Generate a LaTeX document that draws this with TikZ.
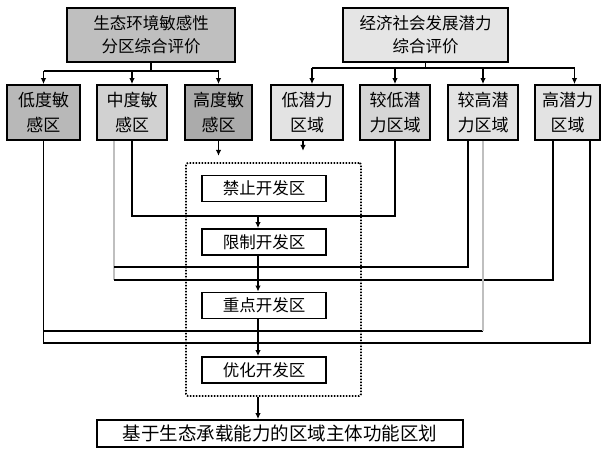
\documentclass[tikz,border=0pt]{standalone}
\usepackage{fontspec}
\setmainfont{Noto Sans CJK SC}
\usetikzlibrary{arrows.meta,calc}
\begin{document}
\begin{tikzpicture}[x=1pt,y=-1pt,
  conn/.style={line width=1.8pt,draw=black},
  arr/.style={conn,-{Latex[length=6pt,width=5.5pt]}},
  faint/.style={line width=1.1pt,draw=black!25},
  hdr/.style={draw=black,line width=1.8pt,inner sep=0pt,align=center,
    minimum height=54pt,font=\fontsize{16.5}{23}\selectfont},
  cat/.style={draw=black,line width=1.8pt,inner sep=0pt,align=center,
    minimum height=55pt,font=\fontsize{17}{25}\selectfont},
  zone/.style={draw=black,line width=1.8pt,fill=white,inner sep=0pt,
    minimum width=124pt,minimum height=26pt,font=\fontsize{16.5}{18}\selectfont},
  grp/.style={draw=black,line width=1.8pt,dash pattern=on 1.5pt off 1.5pt,
    rounded corners=2pt,inner sep=0pt,minimum width=175pt,minimum height=233pt},
  final/.style={draw=black,line width=1.8pt,inner sep=0pt,minimum width=366pt,
    minimum height=27pt,font=\fontsize{18.5}{20}\selectfont}
]
\useasboundingbox[fill=white] (0,0) rectangle (605,450);

% headers
\node[hdr,fill=black!25,minimum width=168pt] (h1) at (151,35) {生态环境敏感性\\分区综合评价};
\node[hdr,fill=black!10,minimum width=165pt] (h2) at (425.5,35) {经济社会发展潜力\\综合评价};

% category boxes
\node[cat,fill=black!28,minimum width=73pt] (b1) at (43.5,112.5) {低度敏\\感区};
\node[cat,fill=black!18,minimum width=70pt] (b2) at (132,112.5) {中度敏\\感区};
\node[cat,fill=black!33,minimum width=67pt] (b3) at (218.5,112.5) {高度敏\\感区};
\node[cat,fill=black!11,minimum width=72pt] (b4) at (307,112.5) {低潜力\\区域};
\node[cat,fill=black!16,minimum width=70pt] (b5) at (395,112.5) {较低潜\\力区域};
\node[cat,fill=black!11,minimum width=70pt] (b6) at (483,112.5) {较高潜\\力区域};
\node[cat,fill=black!11,minimum width=65pt] (b7) at (567.5,112.5) {高潜力\\区域};

% group of zones
\node[grp] (grp) at (273.5,279.5) {};
\node[zone] (z1) at (264,188.5) {禁止开发区};
\node[zone] (z2) at (264,242) {限制开发区};
\node[zone] (z3) at (264,305.5) {重点开发区};
\node[zone] (z4) at (264,370) {优化开发区};

\node[final] (fin) at (280,433.5) {基于生态承载能力的区域主体功能区划};

% header buses
\draw[conn] (h1.south) -- ++(0,8) coordinate (lb);
\draw[conn] (b1.north |- lb) -- (b3.north |- lb);
\foreach \b in {b1,b2,b3} \draw[arr] (\b.north |- lb) -- (\b.north);
\draw[conn] (h2.south) -- ++(0,5) coordinate (rb);
\draw[conn] ($(b4.north |- rb)+(5,0)$) -- ($(b7.north |- rb)+(7,0)$);
\draw[arr] ($(b4.north |- rb)+(5,0)$) -- ($(b4.north)+(5,0)$);
\draw[arr] (b5.north |- rb) -- (b5.north);
\draw[arr] (b6.north |- rb) -- (b6.north);
\draw[arr] ($(b7.north |- rb)+(7,0)$) -- ($(b7.north)+(7,0)$);

% coordinates
\coordinate (j1) at (258,216);
\coordinate (b4a) at ($(b4.south)+(-4,0)$);
\coordinate (b6a) at ($(b6.south)+(-15,0)$);
\coordinate (b7a) at ($(b7.south)+(-14.5,0)$);
\coordinate (b7b) at ($(b7.south)+(22.5,0)$);
\coordinate (l2) at (114,267);
\coordinate (l2b) at (114,280);
\coordinate (l3e) at (483,331);
\coordinate (l4) at (0,343);

% short arrows into the group
\draw[arr] (b3.south) -- ++(0,15);
\draw[arr] (b4a) -- ++(0,10);

% to limited zone
\draw[conn] (b2.south) |- (j1) -| (b5.south);
\draw[arr] (j1) -- (z2.north -| j1);

% to key zone
\draw[faint] (b2.south -| l2) -- (l2b);
\draw[conn] (l2) -| (b6a);
\draw[conn] (l2b) -| (b7a);
\draw[arr] (z2.south -| j1) -- (z3.north -| j1);

% to optimized zone
\draw[conn] (b1.south) |- (b7b |- l4) -- (b7b);
\draw[conn] (b1.south |- l3e) -- (l3e);
\draw[faint] (b6.south) -- (l3e);
\draw[arr] (z3.south -| j1) -- (z4.north -| j1);

% to final
\draw[arr] (grp.south -| j1) -- (fin.north -| j1);
\end{tikzpicture}
\end{document}
